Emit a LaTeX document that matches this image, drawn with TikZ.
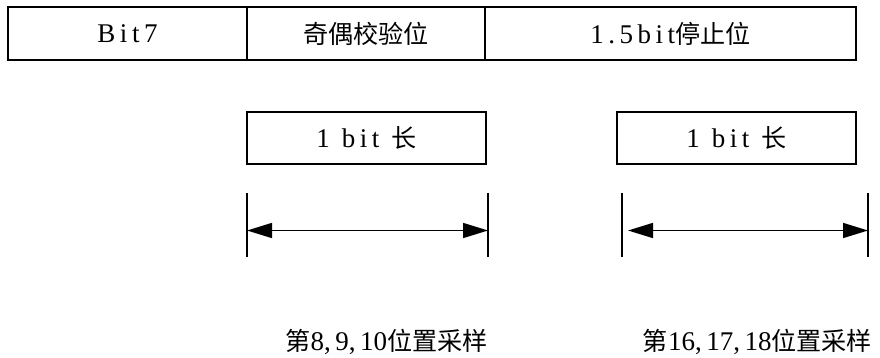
\documentclass[tikz,border=0pt]{standalone}
\usepackage{fontspec}
\setmainfont{Liberation Serif}
\newfontfamily\cjk[Scale=0.93]{Noto Sans CJK SC}
\newcommand\zh[1]{{\cjk #1}}
\usetikzlibrary{arrows.meta}
\tikzset{
  cell/.style={draw=black, line width=1.5pt, inner sep=0pt, minimum height=53pt,
    font=\fontsize{27}{30}\selectfont},
  bitbox/.style={draw=black, line width=1.3pt, inner sep=0pt, minimum width=239pt,
    minimum height=52pt, font=\fontsize{27}{30}\selectfont},
  tick/.style={line width=1.6pt},
  dim/.style={line width=1.5pt, {Triangle[length=25pt,width=15pt]}-{Triangle[length=25pt,width=15pt]}},
  lbl/.style={inner sep=0pt, font=\fontsize{27}{30}\selectfont}
}
\begin{document}
\begin{tikzpicture}[x=1pt,y=-1pt]
\useasboundingbox[fill=white] (0,0) rectangle (880,358);
% top table
\node[cell, minimum width=239pt] (c1) at (127.5,33.5) {B\,i\,t\,7};
\node[cell, minimum width=238pt] (c2) at (366,33.5) {\zh{奇偶校验位}};
\node[cell, minimum width=371pt] (c3) at (670.5,33.5) {1\,.\,5\,b\,i\,t\zh{停止位}};
% 1 bit boxes
\node[bitbox] (b1) at (366.5,138) {1\;\,b\,i\,t\;\,\zh{长}};
\node[bitbox] (b2) at (736.5,138) {1\;\,b\,i\,t\;\,\zh{长}};
% dimension marks 1
\coordinate (l1t) at (247,193); \coordinate (l1b) at (247,257);
\coordinate (r1t) at (488,193); \coordinate (r1b) at (488,257);
\coordinate (a1l) at (247,230.5); \coordinate (a1r) at (488,230.5);
\draw[tick] (l1t) -- (l1b);
\draw[tick] (r1t) -- (r1b);
\draw[dim] (a1l) -- (a1r);
% dimension marks 2
\coordinate (l2t) at (622,193); \coordinate (l2b) at (622,257);
\coordinate (r2t) at (868,193); \coordinate (r2b) at (868,257);
\coordinate (a2l) at (628,230.5); \coordinate (a2r) at (868,230.5);
\draw[tick] (l2t) -- (l2b);
\draw[tick] (r2t) -- (r2b);
\draw[dim] (a2l) -- (a2r);
% sampling labels
\node[lbl] (t1) at (386.5,342) {\zh{第}8,\,9,\,10\zh{位置采样}};
\node[lbl] (t2) at (757.5,342) {\zh{第}16,\,17,\,18\zh{位置采样}};
\end{tikzpicture}
\end{document}
